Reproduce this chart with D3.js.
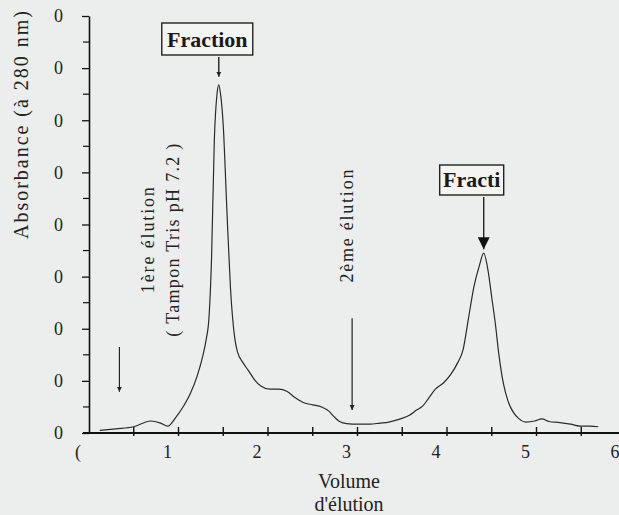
<!DOCTYPE html>
<html>
<head>
<meta charset="utf-8">
<script src="https://cdn.jsdelivr.net/npm/d3@7"></script>
<style>
body { margin: 0; background: #eceded; }
svg { display: block; font-family: "Liberation Serif", "Times New Roman", serif; }
</style>
</head>
<body>
<div id="chart"></div>
<script>
// elution volume (x) and absorbance at 280 nm (y)
var volume = [0.12, 0.30, 0.50, 0.69, 0.80, 0.88, 0.97, 1.05, 1.13, 1.21, 1.27, 1.31, 1.34, 1.37, 1.40, 1.43,
  1.45, 1.47, 1.50, 1.54, 1.58, 1.63, 1.66, 1.72, 1.78, 1.85, 1.92, 2.02, 2.12, 2.21, 2.30, 2.40, 2.50,
  2.60, 2.68, 2.74, 2.80, 2.88, 3.00, 3.14, 3.25, 3.35, 3.48, 3.58, 3.66, 3.73, 3.80, 3.87, 3.96, 4.04,
  4.12, 4.18, 4.24, 4.30, 4.36, 4.41, 4.46, 4.50, 4.54, 4.58, 4.63, 4.68, 4.74, 4.80, 4.88, 4.98, 5.06,
  5.14, 5.26, 5.38, 5.50, 5.60, 5.69];
var absorbance = [0.05, 0.08, 0.12, 0.23, 0.19, 0.13, 0.30, 0.50, 0.75, 1.10, 1.47, 1.80, 2.20, 3.40, 5.60, 6.50,
  6.68, 6.50, 5.90, 4.30, 2.80, 1.80, 1.55, 1.35, 1.20, 1.02, 0.90, 0.84, 0.84, 0.80, 0.68, 0.58, 0.54,
  0.50, 0.42, 0.31, 0.22, 0.18, 0.17, 0.17, 0.19, 0.21, 0.27, 0.34, 0.44, 0.52, 0.68, 0.84, 0.96, 1.12,
  1.35, 1.60, 2.20, 2.80, 3.20, 3.45, 3.10, 2.60, 2.10, 1.50, 0.95, 0.62, 0.40, 0.28, 0.21, 0.23, 0.27,
  0.22, 0.20, 0.17, 0.13, 0.13, 0.12];

var yTicks = [0, 1, 2, 3, 4, 5, 6, 7, 8];
var yTickLabels = ["0", "0", "0", "0", "0", "0", "0", "0", "0"];
var xTicks = [0, 1, 2, 3, 4, 5, 6];
var xTickLabels = ["(", "1", "2", "3", "4", "5", "6"];

// fraction peaks
var peakVolume = [1.45, 4.41];
var peakLabels = ["Fraction", "Fracti"];

// elution starts
var elutionVolume = [0.34, 2.94];
var elutionLabels = [["1ère élution", "( Tampon Tris pH 7.2 )"], ["2ème élution"]];

var width = 619, height = 515;

var svg = d3.select("#chart").append("svg")
  .attr("width", width)
  .attr("height", height);

var x = d3.scaleLinear().domain([0, 6]).range([89, 626]);
var y = d3.scaleLinear().domain([0, 8]).range([433, 16]);

var data = volume.map(function(v, i) { return {x: v, y: absorbance[i]}; });

var defs = svg.append("defs");
defs.append("marker")
  .attr("id", "head-small")
  .attr("viewBox", "0 0 10 10")
  .attr("refX", 10).attr("refY", 5)
  .attr("markerWidth", 5).attr("markerHeight", 9)
  .attr("markerUnits", "userSpaceOnUse")
  .attr("orient", "auto")
  .append("path").attr("d", "M0,0L10,5L0,10Z").attr("fill", "#222");
defs.append("marker")
  .attr("id", "head-big")
  .attr("viewBox", "0 0 10 10")
  .attr("refX", 10).attr("refY", 5)
  .attr("markerWidth", 17).attr("markerHeight", 12)
  .attr("markerUnits", "userSpaceOnUse")
  .attr("orient", "auto")
  .append("path").attr("d", "M0,0L10,5L0,10Z").attr("fill", "#111");

// y axis
var yAxis = svg.append("g")
  .attr("transform", "translate(" + x(0) + ",0)")
  .call(d3.axisLeft(y)
    .tickValues(yTicks)
    .tickFormat(function(d, i) { return yTickLabels[i]; })
    .tickSize(7)
    .tickSizeOuter(0)
    .tickPadding(19));
yAxis.select(".domain").attr("stroke", "#111").attr("stroke-width", 1.6);
yAxis.selectAll(".tick line").attr("stroke", "#111").attr("stroke-width", 1.3);
yAxis.selectAll("text")
  .attr("font-family", "Liberation Serif, serif")
  .attr("font-size", 18)
  .attr("fill", "#222");

// minor y ticks
svg.append("g").selectAll("line")
  .data(d3.range(0.5, 8, 1))
  .enter().append("line")
  .attr("x1", x(0) - 6).attr("x2", x(0))
  .attr("y1", function(d) { return y(d); })
  .attr("y2", function(d) { return y(d); })
  .attr("stroke", "#111").attr("stroke-width", 1.2);

// x axis
svg.append("line")
  .attr("x1", x(0) - 6).attr("x2", width)
  .attr("y1", y(0)).attr("y2", y(0))
  .attr("stroke", "#111").attr("stroke-width", 1.8);

svg.append("g").selectAll("line")
  .data(d3.range(0.5, 6.01, 0.5))
  .enter().append("line")
  .attr("x1", function(d) { return x(d); })
  .attr("x2", function(d) { return x(d); })
  .attr("y1", y(0) - 6).attr("y2", y(0) + 3)
  .attr("stroke", "#111").attr("stroke-width", 1.4);

svg.append("g").selectAll("text")
  .data(xTicks)
  .enter().append("text")
  .attr("x", function(d) { return x(d) - 11; })
  .attr("y", y(0) + 25)
  .attr("text-anchor", "middle")
  .attr("font-size", 18)
  .attr("fill", "#222")
  .text(function(d, i) { return xTickLabels[i]; });

// axis titles
svg.append("text")
  .attr("x", 349).attr("y", 488)
  .attr("text-anchor", "middle")
  .attr("font-size", 20)
  .attr("fill", "#222")
  .text("Volume");
svg.append("text")
  .attr("x", 349).attr("y", 511)
  .attr("text-anchor", "middle")
  .attr("font-size", 20)
  .attr("fill", "#222")
  .text("d'élution");

svg.append("text")
  .attr("transform", "translate(21,125) rotate(-90)")
  .attr("text-anchor", "middle")
  .attr("dy", "0.35em")
  .attr("font-size", 20)
  .attr("textLength", 228)
  .attr("lengthAdjust", "spacing")
  .attr("fill", "#222")
  .text("Absorbance (à 280 nm)");

// chromatogram
var line = d3.line()
  .x(function(d) { return x(d.x); })
  .y(function(d) { return y(d.y); })
  .curve(d3.curveMonotoneX);

svg.append("path")
  .datum(data)
  .attr("d", line)
  .attr("fill", "none")
  .attr("stroke", "#2a2a2a")
  .attr("stroke-width", 1.2);

// elution arrows and labels
var elutionTop = [1.65, 2.2];
var elutionBottom = [0.79, 0.44];
elutionVolume.forEach(function(v, i) {
  svg.append("line")
    .attr("x1", x(v)).attr("x2", x(v))
    .attr("y1", y(elutionTop[i])).attr("y2", y(elutionBottom[i]))
    .attr("stroke", "#222").attr("stroke-width", 1.2)
    .attr("marker-end", "url(#head-small)");
});

var elutionText = [
  {x: 0.66, y: 3.7, text: elutionLabels[0][0], len: 106},
  {x: 0.93, y: 3.7, text: elutionLabels[0][1], len: 193},
  {x: 2.88, y: 3.97, text: elutionLabels[1][0], len: 113}
];
svg.append("g").selectAll("text")
  .data(elutionText)
  .enter().append("text")
  .attr("transform", function(d) { return "translate(" + x(d.x) + "," + y(d.y) + ") rotate(-90)"; })
  .attr("text-anchor", "middle")
  .attr("dy", "0.35em")
  .attr("font-size", 18)
  .attr("textLength", function(d) { return d.len; })
  .attr("lengthAdjust", "spacing")
  .attr("fill", "#222")
  .text(function(d) { return d.text; });

// fraction boxes with arrows
var boxes = [
  {left: -57, right: 34, top: 23, bottom: 55, tip: 6.68, marker: "head-small", head: 8},
  {left: -44, right: 20, top: 165, bottom: 195, tip: 3.45, marker: "head-big", head: 4}
];
peakVolume.forEach(function(v, i) {
  var b = boxes[i], px = x(v);
  svg.append("rect")
    .attr("x", px + b.left).attr("y", b.top)
    .attr("width", b.right - b.left).attr("height", b.bottom - b.top)
    .attr("fill", "#f4f4f2")
    .attr("stroke", "#222").attr("stroke-width", 1.4);
  svg.append("text")
    .attr("x", px + (b.left + b.right) / 2)
    .attr("y", b.bottom - 8)
    .attr("text-anchor", "middle")
    .attr("font-size", 22)
    .attr("font-weight", "bold")
    .attr("fill", "#1a1a1a")
    .text(peakLabels[i]);
  svg.append("line")
    .attr("x1", px).attr("x2", px)
    .attr("y1", b.bottom + 2).attr("y2", y(b.tip) - b.head)
    .attr("stroke", "#222").attr("stroke-width", 1.4)
    .attr("marker-end", "url(#" + b.marker + ")");
});
</script>
</body>
</html>
